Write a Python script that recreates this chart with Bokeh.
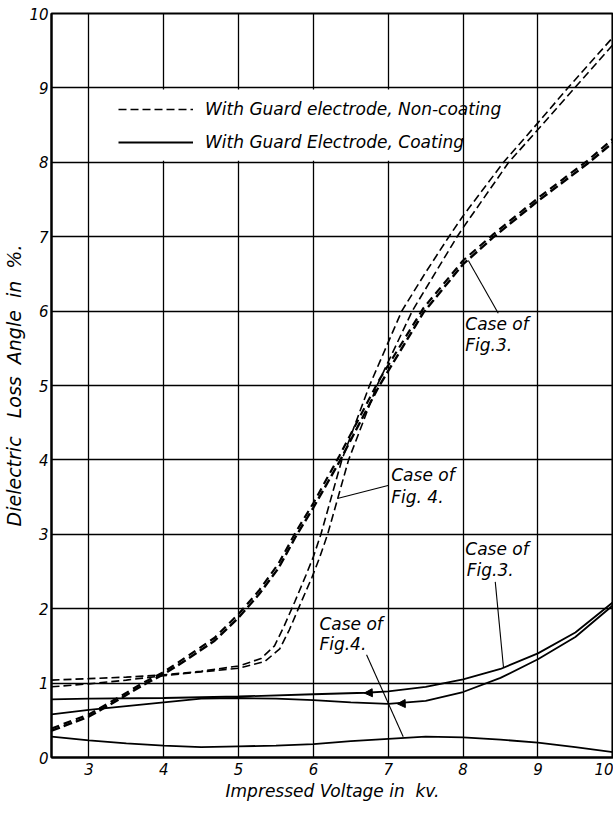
from bokeh.plotting import figure
from bokeh.models import (Range1d, FixedTicker, BoxAnnotation, Legend, LegendItem,
                          Arrow, NormalHead)
from bokeh.core.properties import value
from bokeh.embed import file_html
from bokeh.resources import INLINE

FONT = "DejaVu Sans"
NB = "\u00a0"

# ---------------- data ----------------
x_ticks = [3, 4, 5, 6, 7, 8, 9, 10]
y_ticks = [0, 1, 2, 3, 4, 5, 6, 7, 8, 9, 10]

# Non-coating (dashed), case of Fig.3 : rising / falling measurement
f3_dash_kv = [2.5, 3.0, 3.4, 3.7, 4.0, 4.3, 4.68, 5.0, 5.27, 5.53, 5.77, 6.0, 6.35,
              6.87, 7.47, 8.0, 8.39, 9.0, 9.66, 10.02]
f3_dash_up = [0.36, 0.55, 0.78, 0.96, 1.12, 1.31, 1.57, 1.88, 2.19, 2.54, 2.98, 3.36, 3.98,
              4.98, 5.98, 6.63, 6.98, 7.48, 7.98, 8.28]
f3_dash_down = [0.39, 0.58, 0.81, 0.99, 1.15, 1.35, 1.61, 1.93, 2.24, 2.60, 3.04, 3.42, 4.06,
                5.06, 6.04, 6.68, 7.02, 7.52, 8.02, 8.33]

# Non-coating (dashed), case of Fig.4
f4_dash_a_kv = [2.5, 3.0, 3.5, 4.0, 4.5, 5.0, 5.3, 5.48, 5.61, 5.75, 5.9, 6.0, 6.1, 6.38,
                6.75, 7.18, 7.5, 7.81, 8.0, 8.54, 9.0, 9.4, 10.02]
f4_dash_a = [1.04, 1.06, 1.08, 1.11, 1.16, 1.23, 1.33, 1.50, 1.77, 2.09, 2.45, 2.70, 3.0, 4.0,
             5.0, 6.0, 6.52, 7.0, 7.28, 8.0, 8.53, 9.0, 9.70]
f4_dash_b_kv = [2.5, 3.0, 3.5, 4.0, 4.5, 5.0, 5.35, 5.55, 5.68, 5.82, 5.98, 6.08, 6.19, 6.47,
                6.85, 7.32, 7.62, 7.92, 8.0, 8.61, 9.0, 9.49, 10.02]
f4_dash_b = [0.95, 0.99, 1.04, 1.10, 1.15, 1.20, 1.29, 1.46, 1.72, 2.05, 2.42, 2.68, 3.0, 4.0,
             5.0, 6.0, 6.5, 7.0, 7.12, 8.0, 8.44, 9.0, 9.60]

# Coating (solid), case of Fig.3 : upper / lower branch
f3_solid_up_kv = [2.5, 3.0, 4.0, 5.0, 6.0, 6.7, 7.0, 7.5, 8.0, 8.5, 9.0, 9.5, 10.02]
f3_solid_up = [0.78, 0.79, 0.80, 0.82, 0.85, 0.87, 0.89, 0.95, 1.05, 1.19, 1.40, 1.68, 2.10]
f3_solid_lo_kv = [2.5, 3.0, 3.5, 4.0, 4.5, 5.0, 5.5, 6.0, 6.5, 7.0, 7.5, 8.0, 8.5, 9.0, 9.5, 10.02]
f3_solid_lo = [0.58, 0.64, 0.69, 0.74, 0.79, 0.80, 0.79, 0.77, 0.74, 0.72, 0.76, 0.88, 1.07,
               1.32, 1.62, 2.06]

# Coating (solid), case of Fig.4
f4_solid_kv = [2.5, 3.0, 3.5, 4.0, 4.5, 5.0, 5.5, 6.0, 6.5, 7.0, 7.5, 8.0, 8.5, 9.0, 9.5, 10.02]
f4_solid = [0.28, 0.23, 0.19, 0.16, 0.14, 0.15, 0.16, 0.18, 0.22, 0.25, 0.28, 0.27, 0.24,
            0.20, 0.14, 0.07]

# annotation texts
note_text = ["Case of", "Fig.3.", "Case of", "Fig. 4.", "Case of", "Fig.3.", "Case of", "Fig.4."]
note_x = [8.03, 8.03, 7.04, 7.04, 8.03, 8.05, 6.08, 6.08]
note_y = [5.83, 5.54, 3.80, 3.50, 2.80, 2.52, 1.80, 1.52]

# leader lines
lead_x0 = [8.47, 7.01, 8.43, 6.71]
lead_y0 = [5.97, 3.66, 2.36, 1.38]
lead_x1 = [8.07, 6.32, 8.54, 7.20]
lead_y1 = [6.68, 3.48, 1.21, 0.28]

# ---------------- figure ----------------
p = figure(width=613, height=805, output_backend="svg", toolbar_location=None,
           x_range=Range1d(2.5, 10.01), y_range=Range1d(0, 10),
           min_border_left=50, min_border_right=0, min_border_top=13, min_border_bottom=48)
p.background_fill_color = "white"
p.border_fill_color = "white"
p.outline_line_color = "black"
p.outline_line_width = 2

for g, t in ((p.xgrid, x_ticks), (p.ygrid, y_ticks)):
    g.ticker = FixedTicker(ticks=t)
    g.grid_line_color = "black"
    g.grid_line_width = 1.3
    g.level = "image"

p.xaxis.ticker = FixedTicker(ticks=x_ticks)
p.yaxis.ticker = FixedTicker(ticks=y_ticks)
for ax in (p.xaxis, p.yaxis):
    ax.axis_line_color = "black"
    ax.axis_line_width = 2
    ax.major_tick_line_color = None
    ax.minor_tick_line_color = None
    ax.major_tick_out = 0
    ax.major_tick_in = 0
    ax.major_label_text_font = FONT
    ax.major_label_text_font_style = "italic"
    ax.major_label_text_font_size = "15px"
    ax.major_label_text_color = "black"
    ax.axis_label_text_font = FONT
    ax.axis_label_text_font_style = "italic"
    ax.axis_label_text_color = "black"

p.xaxis.major_label_standoff = 5
p.xaxis.axis_label = "Impressed Voltage in" + NB + " kv."
p.xaxis.axis_label_text_font_size = "17px"
p.xaxis.axis_label_standoff = 3
p.yaxis.major_label_standoff = 3
p.yaxis.axis_label = ("Dielectric" + NB + NB + " Loss" + NB + " Angle" + NB + " in" + NB + " %.")
p.yaxis.axis_label_text_font_size = "19px"
p.yaxis.axis_label_standoff = 1

# white legend panel covering the grid between 8 and 9
p.add_layout(BoxAnnotation(left=3.02, right=7.98, bottom=8.02, top=8.98,
                           fill_color="white", fill_alpha=1.0, line_alpha=0,
                           level="underlay"))

# dashed curves
p.line(f3_dash_kv, f3_dash_up, line_color="black", line_width=2.4, line_dash="9 4")
p.line(f3_dash_kv, f3_dash_down, line_color="black", line_width=2.2, line_dash="8 5")
r_dash = p.line(f4_dash_a_kv, f4_dash_a, line_color="black", line_width=1.6, line_dash="8 4")
p.line(f4_dash_b_kv, f4_dash_b, line_color="black", line_width=1.6, line_dash="8 4")

# solid curves
p.line(f3_solid_up_kv, f3_solid_up, line_color="black", line_width=1.8)
p.line(f3_solid_lo_kv, f3_solid_lo, line_color="black", line_width=1.8)
r_solid = p.line(f4_solid_kv, f4_solid, line_color="black", line_width=1.8)

# direction arrows on the Fig.3 coating curves
p.add_layout(Arrow(x_start=6.82, y_start=0.872, x_end=6.68, y_end=0.866, line_alpha=0,
                   end=NormalHead(size=8, fill_color="black", line_color="black")))
p.add_layout(Arrow(x_start=7.28, y_start=0.727, x_end=7.12, y_end=0.722, line_alpha=0,
                   end=NormalHead(size=8, fill_color="black", line_color="black")))

# leader lines and notes
p.segment(x0=lead_x0, y0=lead_y0, x1=lead_x1, y1=lead_y1, line_color="black", line_width=1.1)
p.text(x=note_x, y=note_y, text=note_text, text_font=value(FONT), text_font_style="italic",
       text_font_size="17px", text_color="black", text_align="left", text_baseline="middle")

legend = Legend(items=[LegendItem(label="With Guard electrode, Non-coating", renderers=[r_dash]),
                       LegendItem(label="With Guard Electrode, Coating", renderers=[r_solid])],
                location=(67, 605), orientation="vertical", padding=0, spacing=13,
                glyph_width=75, glyph_height=20, label_height=20, label_standoff=12,
                label_text_font=FONT, label_text_font_style="italic",
                label_text_font_size="17px", label_text_color="black",
                background_fill_alpha=0, border_line_alpha=0, margin=0)
p.add_layout(legend)

open("out.html", "w").write(file_html(p, INLINE))
